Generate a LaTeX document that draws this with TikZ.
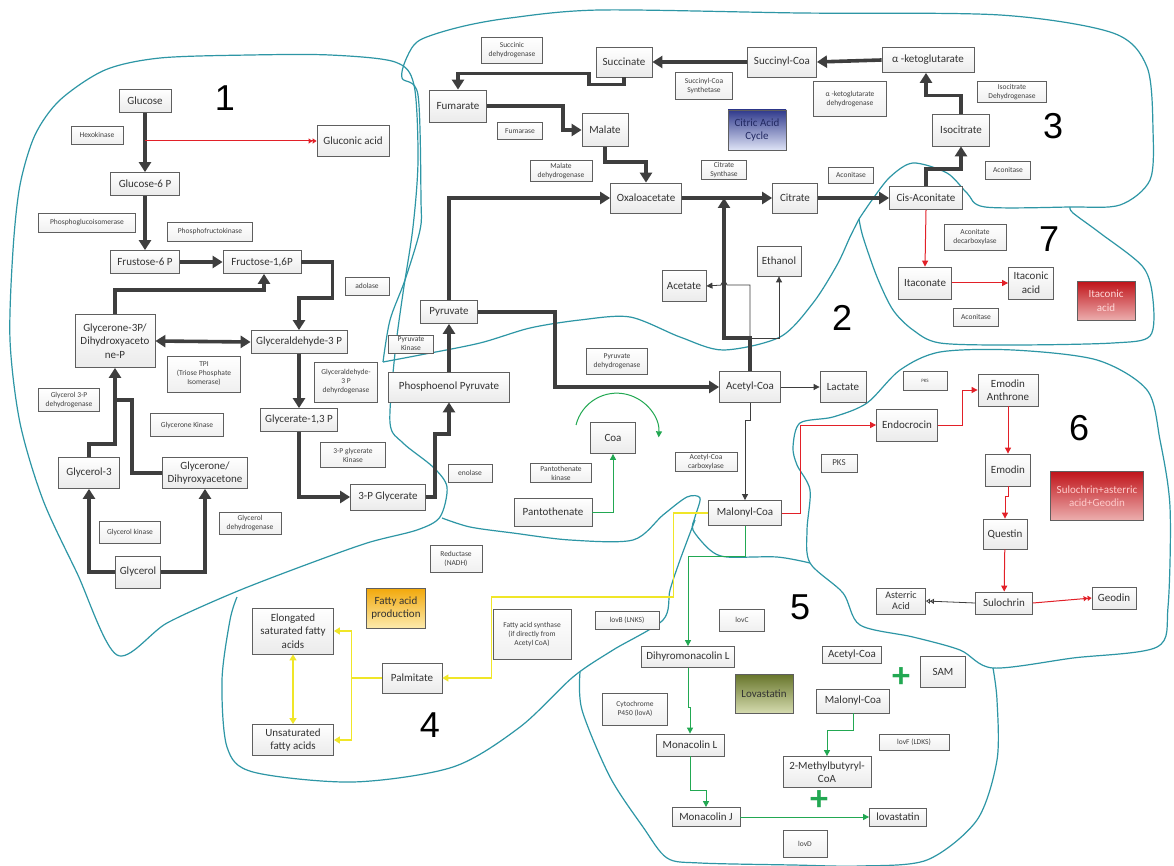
\documentclass[tikz,border=0pt]{standalone}
\usepackage{fontspec}
\setmainfont{Carlito}
\newfontfamily\numfont{Liberation Sans}
\usetikzlibrary{arrows.meta}
\definecolor{arrowgray}{RGB}{62,62,62}
\definecolor{boxline}{RGB}{95,95,95}
\definecolor{pathred}{RGB}{226,32,40}
\definecolor{pathgreen}{RGB}{34,168,82}
\definecolor{pathyellow}{RGB}{240,230,40}
\definecolor{regionteal}{RGB}{45,150,165}
\definecolor{tcatop}{RGB}{48,58,140}
\definecolor{tcabot}{RGB}{222,227,246}
\definecolor{itctop}{RGB}{192,20,26}
\definecolor{itcbot}{RGB}{236,175,175}
\definecolor{fatop}{RGB}{242,168,10}
\definecolor{fabot}{RGB}{252,234,172}
\definecolor{lovtop}{RGB}{104,118,44}
\definecolor{lovbot}{RGB}{214,220,176}

\begin{document}
\begin{tikzpicture}[x=1pt, y=-1pt,
    met/.style={draw=boxline, line width=0.8pt, top color=white, bottom color=gray!16,
      text=black!80, font=\fontsize{11}{13.5}\selectfont, align=center,
      inner xsep=3pt, inner ysep=2pt, minimum height=23pt},
    enz/.style={draw=boxline, line width=0.7pt, top color=white, bottom color=gray!12,
      text=black!75, font=\fontsize{7.5}{9}\selectfont, align=center,
      inner xsep=2pt, inner ysep=1.5pt},
    gradlbl/.style={draw=boxline, line width=0.8pt, font=\fontsize{11}{13.5}\selectfont,
      align=center, inner sep=2pt},
    sz/.style 2 args={minimum width=#1pt, minimum height=#2pt},
    numlbl/.style={font=\numfont\fontsize{36}{36}\selectfont, text=black},
    plussign/.style={font=\bfseries\fontsize{36}{36}\selectfont, text=pathgreen},
    thickarr/.style={draw=arrowgray, line width=3.6pt, -{Triangle[length=10pt,width=12pt]}},
    thinarr/.style={draw=arrowgray, line width=0.8pt, -{Triangle[length=6pt,width=6pt]}},
    redarr/.style={draw=pathred, line width=1pt, -{Triangle[length=6pt,width=6pt]}},
    greenarr/.style={draw=pathgreen, line width=1pt, -{Triangle[length=6pt,width=6pt]}},
    yelarr/.style={draw=pathyellow, line width=1.2pt, -{Triangle[length=6pt,width=7pt]}},
    region/.style={draw=regionteal, line width=1.2pt}
  ]
  \fill[white] (0,0) rectangle (1174,866);
  \useasboundingbox (0,0) rectangle (1174,866);

  % region outlines
  \draw[region] plot[smooth cycle] coordinates {(117,655) (77,573) (43,500) (20,423) (10,340) (13,250) (20,185) (35,135) (60,100) (105,70) (160,58) (250,55) (330,55) (395,62) (414,85) (418,160) (413,227) (403,293) (395,353) (390,423) (403,443) (433,467) (447,487) (440,517) (417,530) (367,543) (300,567) (233,593) (167,623)};
  \draw[region] plot[smooth] coordinates {(383,362) (390,320) (405,280) (420,230) (421,200) (418,95) (402,78) (407,57) (420,40) (460,27) (510,18) (600,10) (800,13) (1000,15) (1113,33) (1147,67) (1153,130) (1150,180) (1120,205) (1070,207) (985,207) (967,193) (947,173) (913,163) (890,177) (872,200) (859,219)};
  \draw[region] plot[smooth] coordinates {(383,362) (420,355) (480,343) (530,328) (580,320) (630,317) (680,337) (723,350) (780,337) (813,303) (837,265) (850,237) (859,219)};
  \draw[region] plot[smooth] coordinates {(859,219) (863,237) (877,277) (893,310) (913,330) (940,343) (1013,345) (1113,343) (1150,336) (1153,300) (1143,267) (1100,233) (1073,213) (1070,207)};
  \draw[region] plot[smooth] coordinates {(442,518) (470,527) (513,533) (570,540) (633,540) (663,515) (687,497) (700,498) (695,517) (693,530) (710,550) (727,557) (777,557) (810,563)};
  \draw[region] plot[smooth] coordinates {(695,520) (680,560) (670,590) (663,620) (613,650) (573,677) (520,727) (453,767) (353,782) (253,772) (227,747) (222,680) (230,620) (237,597)};
  \draw[region] plot[smooth] coordinates {(580,672) (582,710) (610,777) (643,827) (667,858) (700,863) (793,865) (860,866) (927,860) (977,820) (997,760) (997,700) (993,668)};
  \draw[region] plot[smooth cycle] coordinates {(810,563) (843,593) (860,625) (913,637) (960,650) (993,668) (1073,658) (1157,647) (1168,607) (1170,507) (1160,440) (1147,390) (1097,360) (1013,350) (940,352) (900,370) (867,403) (833,417) (800,423) (793,447) (797,465) (810,490) (807,530)};

  % region numbers
  \node[numlbl] (num1) at (225,98) {1};
  \node[numlbl] (num2) at (842,318) {2};
  \node[numlbl] (num3) at (1053,126) {3};
  \node[numlbl] (num4) at (430,725) {4};
  \node[numlbl] (num5) at (800,607) {5};
  \node[numlbl] (num6) at (1079,428) {6};
  \node[numlbl] (num7) at (1049,239) {7};

  % glycolysis
  \node[met, sz={52}{23}] (glc) at (145,101) {Glucose};
  \node[enz, sz={52}{18}] (hexo) at (97,135) {Hexokinase};
  \node[met, sz={72}{31}] (glcacid) at (353,141) {Gluconic acid};
  \node[met, sz={69}{23}] (g6p) at (145,184) {Glucose-6 P};
  \node[enz, sz={97}{19}] (pgi) at (87,223) {Phosphoglucoisomerase};
  \node[enz, sz={85}{19}] (pfk) at (210,232) {Phosphofructokinase};
  \node[met, sz={69}{23}] (f6p) at (145,262) {Frustose-6 P};
  \node[met, sz={78}{23}] (f16p) at (262,262) {Fructose-1,6P};
  \node[enz, sz={44}{18}] (aldo) at (367,286) {adolase};
  \node[met, sz={80}{53}] (dhap) at (115,341) {Glycerone-3P/\\Dihydroxyaceto\\ne-P};
  \node[met, sz={96}{23}] (gap) at (299,342) {Glyceraldehyde-3 P};
  \node[enz, sz={73}{36}] (tpi) at (204,374) {TPI\\(Triose Phosphate\\Isomerase)};
  \node[enz, sz={61}{23}] (g3pdh) at (69,400) {Glycerol 3-P\\dehydrogenase};
  \node[enz, sz={73}{23}] (glyk) at (187,425) {Glycerone Kinase};
  \node[enz, sz={63}{40}] (gapdh) at (346,382) {Glyceraldehyde-\\3 P\\dehyrdogenase};
  \node[met, sz={77}{23}] (bpg) at (299,420) {Glycerate-1,3 P};
  \node[enz, sz={65}{25}] (pgk) at (353,455) {3-P glycerate\\Kinase};
  \node[met, sz={61}{31}] (g3) at (89,473) {Glycerol-3};
  \node[met, sz={85}{31}] (dha) at (205,473) {Glycerone/\\Dihyroxyacetone};
  \node[met, sz={75}{26}] (pga) at (388,497) {3-P Glycerate};
  \node[enz, sz={61}{22}] (glk) at (130,532) {Glycerol kinase};
  \node[enz, sz={62}{22}] (gdh) at (250,523) {Glycerol\\dehydrogenase};
  \node[met, sz={45}{32}] (glycerol) at (138,572) {Glycerol};
  \node[enz, sz={44}{18}] (eno) at (470,473) {enolase};

  % pyruvate and acetyl-coa
  \node[met, sz={57}{23}] (pyr) at (449,312) {Pyruvate};
  \node[enz, sz={45}{18}] (pk) at (411,344) {Pyruvate\\Kinase};
  \node[met, sz={121}{30}] (pep) at (449,387) {Phosphoenol Pyruvate};
  \node[enz, sz={61}{26}] (pdh) at (617,361) {Pyruvate\\dehydrogenase};
  \node[met, sz={61}{31}] (accoa) at (750,387) {Acetyl-Coa};
  \node[met, sz={46}{31}] (lac) at (843,387) {Lactate};
  \node[met, sz={44}{31}] (acet) at (684,286) {Acetate};
  \node[met, sz={44}{30}] (etoh) at (779,261) {Ethanol};
  \node[met, sz={45}{31}] (coa) at (613,438) {Coa};
  \node[enz, sz={61}{19}] (pank) at (561,473) {Pantothenate\\kinase};
  \node[met, sz={78}{28}] (panto) at (553,512) {Pantothenate};
  \node[enz, sz={62}{19}] (acc) at (706,462) {Acetyl-Coa\\carboxylase};
  \node[met, sz={73}{25}] (malcoa) at (745,513) {Malonyl-Coa};

  % citric acid cycle
  \node[met, sz={71}{30}] (oaa) at (646,198) {Oxaloacetate};
  \node[met, sz={45}{30}] (cit) at (795,198) {Citrate};
  \node[met, sz={73}{23}] (cisaco) at (926,198) {Cis-Aconitate};
  \node[enz, sz={45}{19}] (cs) at (724,170) {Citrate\\Synthase};
  \node[enz, sz={45}{16}] (aco1) at (851,175) {Aconitase};
  \node[enz, sz={62}{21}] (mdh) at (561,171) {Malate\\dehydrogenase};
  \node[met, sz={46}{33}] (mal) at (605,130) {Malate};
  \node[enz, sz={45}{17}] (fumase) at (520,131) {Fumarase};
  \node[met, sz={57}{32}] (fum) at (458,106) {Fumarate};
  \node[enz, sz={61}{26}] (sdh) at (512,50) {Succinic\\dehydrogenase};
  \node[met, sz={56}{30}] (suc) at (624,62) {Succinate};
  \node[enz, sz={57}{27}] (scs) at (704,86) {Succinyl-Coa\\Synthetase};
  \node[gradlbl, sz={58}{40}, top color=tcatop, bottom color=tcabot, text=tcatop!70!black] (tca) at (757,130) {Citric Acid\\Cycle};
  \node[met, sz={69}{30}] (succoa) at (782,62) {Succinyl-Coa};
  \node[met, sz={92}{25}] (akg) at (928,60) {α -ketoglutarate};
  \node[enz, sz={73}{35}] (akgdh) at (850,99) {α -ketoglutarate\\dehydrogenase};
  \node[enz, sz={69}{21}] (idh) at (1012,92) {Isocitrate\\Dehydrogenase};
  \node[met, sz={57}{32}] (icit) at (961,130) {Isocitrate};
  \node[enz, sz={45}{18}] (aco2) at (1008,170) {Aconitase};

  % itaconic acid
  \node[enz, sz={62}{26}] (acodc) at (975,237) {Aconitate\\decarboxylase};
  \node[met, sz={53}{32}] (itc) at (925,283) {Itaconate};
  \node[met, sz={45}{32}] (itcacid) at (1031,283) {Itaconic\\acid};
  \node[enz, sz={45}{18}] (aco3) at (976,317) {Aconitase};
  \node[gradlbl, sz={58}{39}, top color=itctop, bottom color=itcbot, text=white!85!red] (itclabel) at (1106,301) {Itaconic\\acid};

  % geodin branch
  \node[enz, sz={44}{19}, font=\fontsize{5}{6}\selectfont] (pks1) at (925,381) {PKS};
  \node[met, sz={60}{32}] (emanth) at (1008,390) {Emodin\\Anthrone};
  \node[met, sz={61}{32}] (endo) at (907,425) {Endocrocin};
  \node[enz, sz={36}{18}, font=\fontsize{9}{10}\selectfont] (pks2) at (839,463) {PKS};
  \node[met, sz={45}{32}] (emod) at (1008,470) {Emodin};
  \node[gradlbl, sz={93}{49}, top color=itctop, bottom color=itcbot, text=white!80!red] (sulolabel) at (1097,496) {Sulochrin+asterric\\acid+Geodin};
  \node[met, sz={44}{30}] (quest) at (1005,534) {Questin};
  \node[met, sz={57}{22}] (sulo) at (1004,603) {Sulochrin};
  \node[met, sz={49}{26}, font=\fontsize{10}{11}\selectfont] (aster) at (901,601) {Asterric\\Acid};
  \node[met, sz={44}{22}] (geod) at (1114,598) {Geodin};

  % lovastatin
  \node[enz, sz={64}{18}] (lovb) at (627,620) {lovB (LNKS)};
  \node[enz, sz={45}{22}] (lovc) at (742,620) {lovC};
  \node[met, sz={93}{21}] (dhml) at (688,657) {Dihyromonacolin L};
  \node[met, sz={59}{17}] (accoa5) at (852,655) {Acetyl-Coa};
  \node[met, sz={45}{31}] (sam) at (943,672) {SAM};
  \node[plussign] (plus1) at (901,678) {+};
  \node[gradlbl, sz={58}{39}, top color=lovtop, bottom color=lovbot, text=black!80] (lovlabel) at (764,694) {Lovastatin};
  \node[enz, sz={65}{32}] (p450) at (635,709) {Cytochrome\\P450 (lovA)};
  \node[met, sz={73}{24}] (malcoa5) at (853,701) {Malonyl-Coa};
  \node[enz, sz={70}{16}] (lovf) at (914,742) {lovF (LDKS)};
  \node[met, sz={68}{22}] (monl) at (690,745) {Monacolin L};
  \node[met, sz={88}{31}] (mbcoa) at (827,772) {2-Methylbutyryl-\\CoA};
  \node[plussign] (plus2) at (819,801) {+};
  \node[met, sz={68}{19}] (monj) at (706,817) {Monacolin J};
  \node[met, sz={57}{18}] (lova) at (898,817) {lovastatin};
  \node[enz, sz={44}{27}] (lovd) at (805,844) {lovD};

  % fatty acids
  \node[enz, sz={52}{27}] (reduct) at (456,559) {Reductase\\(NADH)};
  \node[gradlbl, sz={59}{40}, top color=fatop, bottom color=fabot, text=black!80] (falabel) at (396,608) {Fatty acid\\production};
  \node[met, sz={81}{46}] (elong) at (293,631) {Elongated\\saturated fatty\\acids};
  \node[enz, sz={78}{50}] (fas) at (532,634) {Fatty acid synthase\\(if directly from\\Acetyl CoA)};
  \node[met, sz={60}{30}] (palm) at (412,678) {Palmitate};
  \node[met, sz={81}{31}] (unsat) at (293,740) {Unsaturated\\fatty acids};

  % thick connectors
  \draw[thickarr] (glc) -- (g6p);
  \draw[thickarr] (g6p) -- (f6p);
  \draw[thickarr] (f6p) -- (f16p);
  \draw[thickarr] (f16p.east) -- ++(31,0) -- ++(0,36) -| (gap.north);
  \draw[thickarr] (dhap.north) -- ++(0,-24) -| ([xshift=2pt]f16p.south);
  \draw[thickarr, {Triangle[length=10pt,width=12pt]}-{Triangle[length=10pt,width=12pt]}] (dhap.east) -- (gap.west);
  \draw[thickarr] (gap) -- (bpg);
  \draw[thickarr] (bpg.south) |- (pga.west);
  \draw[thickarr] (g3.north) -- ++(0,-13) -| (dhap.south);
  \draw[thickarr, -] (dha.west) -- ++(-30,0) -- ++(0,-73) -- ++(-19,0);
  \draw[thickarr] (glycerol.west) -| (g3.south);
  \draw[thickarr] (glycerol.east) -| (dha.south);
  \draw[thickarr] (pga.east) -- ++(9,0) -- ++(0,-63) -| (pep.south);
  \draw[thickarr] (pep) -- (pyr);
  \draw[thickarr] (pyr.north) |- (oaa.west);
  \draw[thickarr] (pyr.east) -- ++(77,0) |- (accoa.west);
  \draw[thickarr] (accoa.north) -- ++(0,-33) coordinate (acjoin) -| (cs.south |- oaa.east);
  \draw[thickarr] (oaa) -- (cit);
  \draw[thickarr] (cit) -- (cisaco);
  \draw[thickarr] (cisaco.north) -- ++(0,-17) -| (icit.south);
  \draw[thickarr] (icit.north) -- ++(0,-18) -| ([xshift=-2pt]akg.south);
  \draw[thickarr] (akg.west) -- (succoa.east);
  \draw[thickarr] (succoa) -- (suc);
  \draw[thickarr] (suc.south) -- ++(0,7) -- ++(-35,0) -- ++(0,-11) -| (fum.north);
  \draw[thickarr] (fum.east) -- ++(76,0) |- (mal.west);
  \draw[thickarr] (mal.south) -- ++(0,15) -| (oaa.north);

  % thin connectors
  \draw[redarr, -{Triangle[length=4pt,width=5pt]Triangle[length=4pt,width=5pt]}] (glc.south |- glcacid.west) -- (glcacid.west);
  \draw[thinarr] (accoa) -- (lac);
  \draw[thinarr] (accoa.south) -- ++(0,17) -| (malcoa.north);
  \draw[thinarr] (acjoin) -| (etoh.south);
  \draw[thinarr] (acjoin) -- ++(0,-53) -- ++(-23,0) arc[start angle=0, end angle=-180, radius=3] -- (acet.east);

  % coa
  \draw[greenarr] (panto.east) -| (coa.south);
  \coordinate (coaloop) at (576,425);
  \draw[greenarr] (coaloop) arc[start angle=-166, end angle=3, radius=42];

  % lovastatin pathway
  \draw[greenarr] (malcoa.south) -- ++(0,31) -| (dhml.north);
  \draw[greenarr] (dhml.south) -- ++(0,40) -| (monl.north);
  \draw[greenarr] (monl.south) -- ++(0,34) -| (monj.north);
  \draw[greenarr] (monj) -- (lova);
  \draw[greenarr] (malcoa5.south) -- ++(0,17) -| (mbcoa.north);

  % fatty acids
  \draw[yelarr] (malcoa.west) -- ++(-35,0) -- ++(0,84) -- ++(-182,0) |- (palm.east);
  \draw[yelarr] (palm.west) -- ++(-30,0) coordinate (palmfork) |- (elong.east);
  \draw[yelarr] (palmfork) |- (unsat.east);
  \draw[yelarr, {Triangle[length=6pt,width=7pt]}-{Triangle[length=6pt,width=7pt]}] (elong) -- (unsat);

  % geodin and itaconic acid
  \draw[redarr] (malcoa.east) -- ++(19,0) |- (endo.west);
  \draw[redarr] (endo.east) -- ++(25,0) |- (emanth.west);
  \draw[redarr] (emanth) -- (emod);
  \draw[redarr] (emod.south) -- ++(0,10) -| (quest.north);
  \draw[redarr] (quest) -- (sulo);
  \draw[redarr, -{Triangle[length=4pt,width=5pt]Triangle[length=4pt,width=5pt]}] (sulo.east) -- (geod.west);
  \draw[thinarr, -{Triangle[open,length=4pt,width=5pt]Triangle[open,length=4pt,width=5pt]}] (sulo.west) -- (aster.east);
  \draw[redarr] (cisaco.south) -- (itc.north);
  \draw[redarr] (itc) -- (itcacid);
\end{tikzpicture}
\end{document}
